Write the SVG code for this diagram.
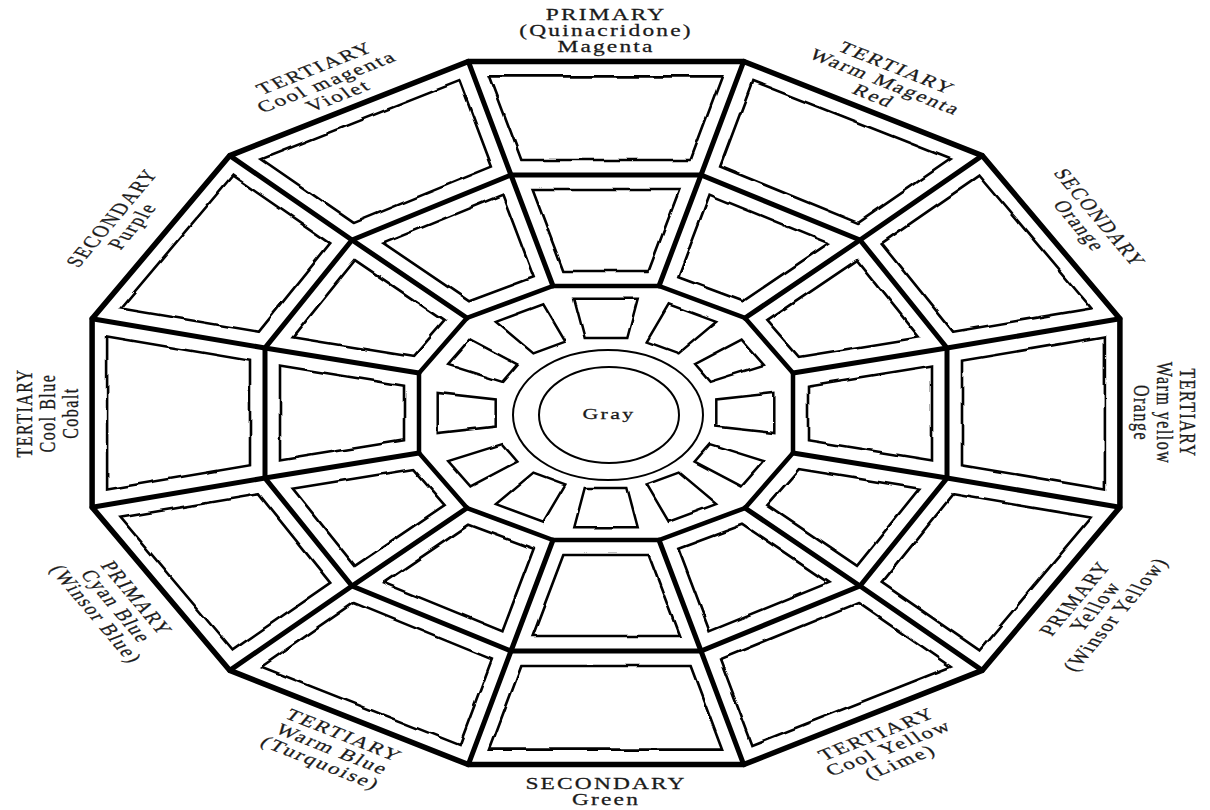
<svg xmlns="http://www.w3.org/2000/svg" xmlns:xlink="http://www.w3.org/1999/xlink" width="1210" height="810" viewBox="0 0 1210 810">
<style>
.bold{fill:none;stroke:#000;stroke-width:5;stroke-linejoin:miter;stroke-linecap:round}
.wideB{fill:none;stroke:#000;stroke-width:32.6;stroke-linejoin:round;stroke-linecap:round}
.wideW{fill:none;stroke:#fff;stroke-width:27.4;stroke-linejoin:round;stroke-linecap:round}
.thin{fill:none;stroke:#000;stroke-width:2.5;stroke-linejoin:miter}
.circ{fill:none;stroke:#000;stroke-width:2}
.lbl{font-family:"Liberation Serif","Times New Roman",serif;font-size:16px;letter-spacing:1.5px;fill:#1a1a1a;stroke:#1a1a1a;stroke-width:0.25;text-anchor:middle}
</style>
<defs>
<path id="outerP" d="M1119.9 318.8 L982.2 155.6 L743.7 61.4 L468.3 61.4 L229.8 155.6 L92.1 318.8 L92.1 507.2 L229.8 670.4 L468.3 764.6 L743.7 764.6 L982.2 670.4 L1119.9 507.2 Z"/>
<path id="midP" d="M947 348 L860 240 L701 175 L511 175 L352 240 L265 348 L265 478 L352 586 L511 651 L701 651 L860 586 L947 478 Z"/>
<path id="innP" d="M793 373 L745 318 L659 286 L553 286 L467 318 L419 373 L419 453 L467 508 L553 540 L659 540 L745 508 L793 453 Z"/>
<path id="spk" d="M1119.9 318.8 L947 348 L793 373 M982.2 155.6 L860 240 L745 318 M743.7 61.4 L701 175 L659 286 M468.3 61.4 L511 175 L553 286 M229.8 155.6 L352 240 L467 318 M92.1 318.8 L265 348 L419 373 M92.1 507.2 L265 478 L419 453 M229.8 670.4 L352 586 L467 508 M468.3 764.6 L511 651 L553 540 M743.7 764.6 L701 651 L659 540 M982.2 670.4 L860 586 L745 508 M1119.9 507.2 L947 478 L793 453"/>
<clipPath id="ringclip">
<path clip-rule="evenodd" d="M1119.9 318.8 L982.2 155.6 L743.7 61.4 L468.3 61.4 L229.8 155.6 L92.1 318.8 L92.1 507.2 L229.8 670.4 L468.3 764.6 L743.7 764.6 L982.2 670.4 L1119.9 507.2 Z M793 373 L745 318 L659 286 L553 286 L467 318 L419 373 L419 453 L467 508 L553 540 L659 540 L745 508 L793 453 Z"/>
</clipPath>
<filter id="wob" x="-10%" y="-10%" width="120%" height="120%">
<feTurbulence type="fractalNoise" baseFrequency="0.045" numOctaves="1" seed="4" result="n"/>
<feDisplacementMap in="SourceGraphic" in2="n" scale="4.5" xChannelSelector="R" yChannelSelector="G"/>
</filter>
<filter id="wob2" x="-10%" y="-10%" width="120%" height="120%">
<feTurbulence type="fractalNoise" baseFrequency="0.05" numOctaves="1" seed="9" result="n"/>
<feDisplacementMap in="SourceGraphic" in2="n" scale="3.5" xChannelSelector="R" yChannelSelector="G"/>
</filter>
</defs>
<rect width="1210" height="810" fill="#fff"/>

<g id="cell-insets" clip-path="url(#ringclip)">
<g filter="url(#wob)">
<use xlink:href="#outerP" class="wideB"/><use xlink:href="#midP" class="wideB"/><use xlink:href="#innP" class="wideB"/><use xlink:href="#spk" class="wideB"/>
<use xlink:href="#outerP" class="wideW"/><use xlink:href="#midP" class="wideW"/><use xlink:href="#innP" class="wideW"/><use xlink:href="#spk" class="wideW"/>
</g>
</g>

<g id="wheel-frame">
<use id="outer-ring" xlink:href="#outerP" class="bold" style="stroke-width:5.5"/>
<use id="middle-ring" xlink:href="#midP" class="bold"/>
<use id="inner-ring" xlink:href="#innP" class="bold" style="stroke-width:4.5"/>
</g>
<g id="spokes">
<use xlink:href="#spk" class="bold"/>
</g>

<g id="inner-cells" filter="url(#wob2)">
<path id="ic0" class="thin" d="M774.3 393 L774.3 433 L716.3 426.6 L716.3 399.4 Z"/>
<path id="ic1" class="thin" d="M763.8 364.9 L741.6 339.6 L694.6 364.4 L709.7 381.9 Z"/>
<path id="ic2" class="thin" d="M716.1 321.9 L668.7 304.3 L646.7 341.6 L678.6 353.4 Z"/>
<path id="ic3" class="thin" d="M637.7 298.7 L574.3 298.7 L584.7 338.1 L627.3 338.1 Z"/>
<path id="ic4" class="thin" d="M495.9 321.9 L543.3 304.3 L565.3 341.6 L533.4 353.4 Z"/>
<path id="ic5" class="thin" d="M448.2 364.9 L470.4 339.6 L517.4 364.4 L502.3 381.9 Z"/>
<path id="ic6" class="thin" d="M437.7 393 L437.7 433 L495.7 426.6 L495.7 399.4 Z"/>
<path id="ic7" class="thin" d="M448.2 461.1 L470.4 486.4 L517.4 461.6 L502.3 444.1 Z"/>
<path id="ic8" class="thin" d="M495.9 504.1 L543.3 521.7 L565.3 484.4 L533.4 472.6 Z"/>
<path id="ic9" class="thin" d="M574.3 527.3 L637.7 527.3 L627.3 487.9 L584.7 487.9 Z"/>
<path id="ic10" class="thin" d="M716.1 504.1 L668.7 521.7 L646.7 484.4 L678.6 472.6 Z"/>
<path id="ic11" class="thin" d="M763.8 461.1 L741.6 486.4 L694.6 461.6 L709.7 444.1 Z"/>
</g>

<g id="center">
<ellipse class="circ" cx="608" cy="415" rx="95" ry="65"/>
<ellipse class="circ" cx="609" cy="415" rx="70" ry="48"/>
<text class="lbl" transform="translate(609 419) scale(1.4615 1)" x="0" y="0" style="font-size:15px;letter-spacing:1.6px">Gray</text>
</g>

<g id="labels" transform="translate(606 413) scale(1.4615 1)">
<g id="lbl-magenta" class="lbl" transform="rotate(0)">
<text y="-393">PRIMARY</text><text y="-377">(Quinacridone)</text><text y="-361">Magenta</text>
</g>
<g id="lbl-red" class="lbl" transform="rotate(30)">
<text y="-393">TERTIARY</text><text y="-377">Warm Magenta</text><text y="-361">Red</text>
</g>
<g id="lbl-orange" class="lbl" transform="rotate(60)">
<text y="-385">SECONDARY</text><text y="-369">Orange</text>
</g>
<g id="lbl-warm-yellow" class="lbl" transform="rotate(90)">
<text y="-393">TERTIARY</text><text y="-377">Warm yellow</text><text y="-361">Orange</text>
</g>
<g id="lbl-yellow" class="lbl" transform="rotate(-60)">
<text y="376">PRIMARY</text><text y="392">Yellow</text><text y="408">(Winsor Yellow)</text>
</g>
<g id="lbl-lime" class="lbl" transform="rotate(-30)">
<text y="376">TERTIARY</text><text y="392">Cool Yellow</text><text y="408">(Lime)</text>
</g>
<g id="lbl-green" class="lbl" transform="rotate(0)">
<text y="376">SECONDARY</text><text y="392">Green</text>
</g>
<g id="lbl-turquoise" class="lbl" transform="rotate(30)">
<text x="6" y="374">TERTIARY</text><text x="6" y="390">Warm Blue</text><text x="6" y="406">(Turquoise)</text>
</g>
<g id="lbl-cyan" class="lbl" transform="rotate(60)">
<text y="376">PRIMARY</text><text y="392">Cyan Blue</text><text y="408">(Winsor Blue)</text>
</g>
<g id="lbl-cobalt" class="lbl" transform="rotate(-90)">
<text y="-393">TERTIARY</text><text y="-377">Cool Blue</text><text y="-361">Cobalt</text>
</g>
<g id="lbl-purple" class="lbl" transform="rotate(-60)">
<text y="-385">SECONDARY</text><text y="-369">Purple</text>
</g>
<g id="lbl-violet" class="lbl" transform="rotate(-30)">
<text y="-393">TERTIARY</text><text y="-377">Cool magenta</text><text y="-361">Violet</text>
</g>
</g>
</svg>
